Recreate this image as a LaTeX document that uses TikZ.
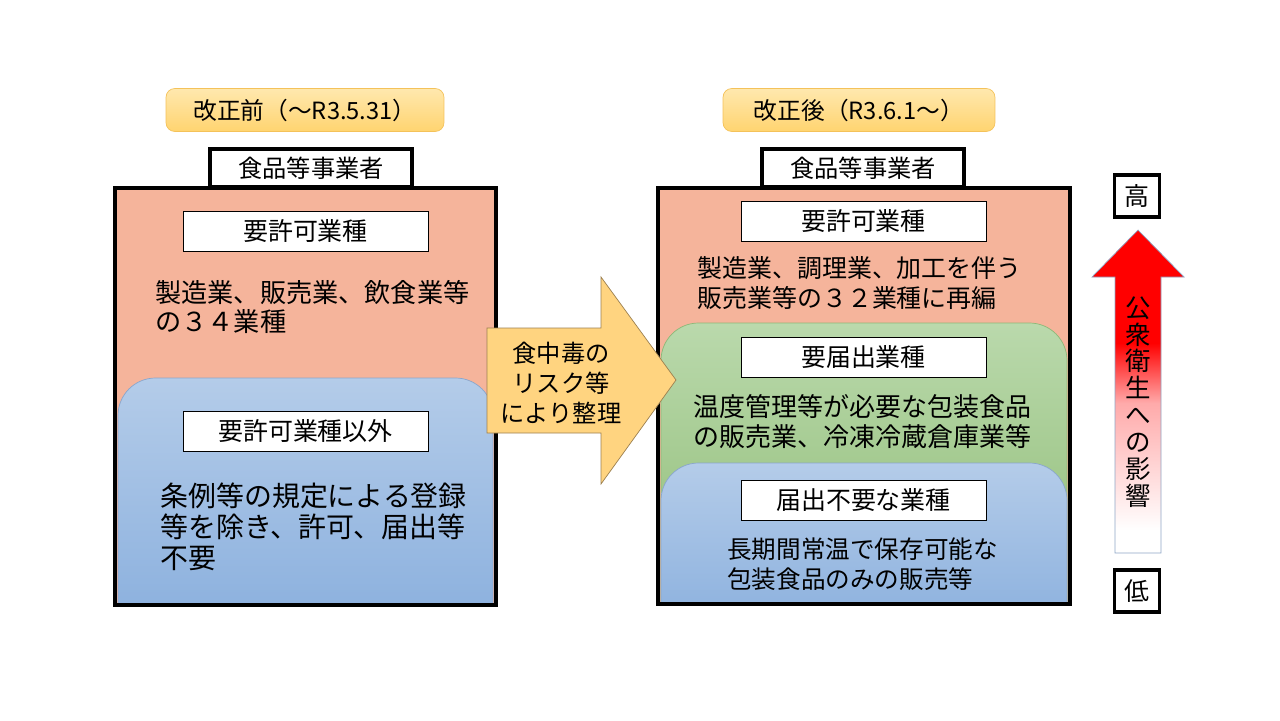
\documentclass[tikz,border=0pt]{standalone}
\usepackage{fontspec}
\setmainfont{Noto Sans CJK JP}
\usetikzlibrary{positioning}

\definecolor{salmon}{HTML}{F5B49B}
\definecolor{bluetop}{HTML}{B4CCE9}
\definecolor{bluebottom}{HTML}{88AEDD}
\definecolor{blueline}{HTML}{8AA6CC}
\definecolor{greentop}{HTML}{BAD9AC}
\definecolor{greenbottom}{HTML}{8AB96F}
\definecolor{greenline}{HTML}{8DB878}
\definecolor{datetop}{HTML}{FFE8AE}
\definecolor{datebottom}{HTML}{FFD470}
\definecolor{dateline}{HTML}{F4C25A}
\definecolor{arrowfill}{HTML}{FFD480}
\definecolor{arrowline}{HTML}{9C8050}
\definecolor{impactline}{HTML}{8EA6C6}
\definecolor{impactpink}{HTML}{FFAAAA}

\pgfdeclareverticalshading{impactfade}{100bp}{color(0bp)=(white); color(28.6bp)=(white); color(48.2bp)=(impactpink); color(57.5bp)=(red); color(100bp)=(red)}

\tikzset{
  datelabel/.style={draw=dateline, rounded corners=5pt, top color=datetop, bottom color=datebottom, minimum height=0.86cm, inner sep=0pt, font=\fontsize{13.5}{16}\selectfont},
  ownerbox/.style={draw, line width=2pt, fill=white, minimum width=4.05cm, minimum height=0.76cm, inner sep=0pt, font=\fontsize{13.8}{16}\selectfont},
  kindbox/.style={draw, thin, fill=white, minimum width=4.9cm, minimum height=0.8cm, inner sep=0pt, font=\fontsize{14.2}{16}\selectfont},
  levelbox/.style={draw, line width=1.8pt, fill=white, minimum width=0.9cm, minimum height=0.84cm, inner sep=0pt, font=\fontsize{14.2}{16}\selectfont},
  businessframe/.style={draw, line width=2.3pt},
  bluezone/.style={draw=blueline, top color=bluetop, bottom color=bluebottom, rounded corners=0.75cm},
  greenzone/.style={draw=greenline, top color=greentop, bottom color=greenbottom, rounded corners=0.75cm},
  listtext/.style={inner sep=0pt, align=left, anchor=west},
  riskarrow/.style={draw=arrowline, fill=arrowfill},
  impactarrow/.style={draw=impactline, shading=impactfade},
}

\begin{document}
\begin{tikzpicture}[x=0.02cm, y=-0.02cm]
\useasboundingbox (0,0) rectangle (1280,720);

\node[datelabel, minimum width=5.56cm] (beforedate) at (305,110) {改正前（～R3.5.31）};
\node[datelabel, minimum width=5.44cm] (afterdate) at (859,110) {改正後（R3.6.1～）};

\node[ownerbox] (beforeowner) at (311,168) {食品等事業者};
\node[ownerbox] (afterowner) at (863,168) {食品等事業者};

\fill[salmon] (115,188) rectangle (496,605);
\fill[salmon] (658,188) rectangle (1070,604);

\begin{scope}
\clip (115,188) rectangle (496,605);
\draw[bluezone] (118,378) rectangle (493,640);
\end{scope}
\begin{scope}
\clip (658,188) rectangle (1070,604);
\draw[greenzone] (661,323) rectangle (1067,640);
\draw[bluezone] (661,463) rectangle (1067,640);
\end{scope}

\draw[businessframe] (115,188) rectangle (496,605);
\draw[businessframe] (658,188) rectangle (1070,604);

\node[kindbox] (beforepermit) at (305.5,231) {要許可業種};
\node[kindbox] (beforeother) at (305.5,431.5) {要許可業種以外};
\node[kindbox] (afterpermit) at (863.5,221.5) {要許可業種};
\node[kindbox] (afternotify) at (863.5,357.5) {要届出業種};
\node[kindbox] (afterfree) at (863.5,500) {届出不要な業種};

\node[listtext, font=\fontsize{14.9}{17}\selectfont] (beforepermitlist) at (155,307) {製造業、販売業、飲食業等\\の３４業種};
\node[listtext, font=\fontsize{15.9}{17.6}\selectfont] (beforeotherlist) at (160,527) {条例等の規定による登録\\等を除き、許可、届出等\\不要};
\node[listtext, font=\fontsize{14.2}{17}\selectfont] (afterpermitlist) at (697,283) {製造業、調理業、加工を伴う\\販売業等の３２業種に再編};
\node[listtext, font=\fontsize{14.8}{17}\selectfont] (afternotifylist) at (693,422) {温度管理等が必要な包装食品\\の販売業、冷凍冷蔵倉庫業等};
\node[listtext, font=\fontsize{14}{17}\selectfont] (afterfreelist) at (727,564) {長期間常温で保存可能な\\包装食品のみの販売等};

\draw[riskarrow] (487,328) -- (601,328) -- (601,277) -- (676,380) -- (601,484) -- (601,433) -- (487,433) -- cycle;
\node[font=\fontsize{13.8}{17}\selectfont, align=center, inner sep=0pt] (risktext) at (561,383) {食中毒の\\リスク等\\により整理};

\draw[impactarrow] (1115,553) -- (1115,277) -- (1092,277) -- (1138,230) -- (1184,277) -- (1161,277) -- (1161,553) -- cycle;
\node[font=\fontsize{14.5}{15.3}\selectfont, align=center, inner sep=0pt] (impacttext) at (1138,402) {公\\衆\\衛\\生\\へ\\の\\影\\響};

\node[levelbox] (high) at (1137,196) {高};
\node[levelbox] (low) at (1137,591) {低};

\end{tikzpicture}
\end{document}
